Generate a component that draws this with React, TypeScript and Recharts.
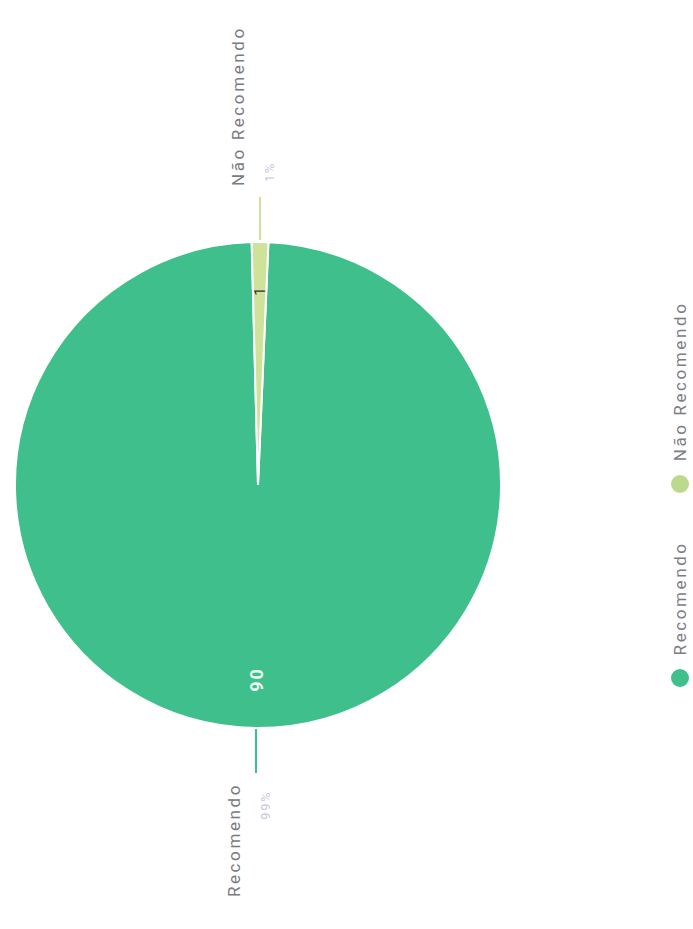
import React from 'react';
import { PieChart, Pie, Cell, Legend } from 'recharts';

const categories = ['Recomendo', 'Não Recomendo'];
const values = [90, 1];
const colors = ['#3fbf8c', '#cfe29a'];
const legendColors = ['#3fbf8c', '#bcd98e'];

const data = categories.map((name, i) => ({ name, value: values[i] }));

const RAD = Math.PI / 180;
const FONT = 'Roboto, "Noto Sans", sans-serif';

function renderLabel(props: any) {
  const { cx, cy, midAngle, outerRadius, percent, name, value, index } = props;
  const cos = Math.cos(-midAngle * RAD);
  const sin = Math.sin(-midAngle * RAD);
  const right = cos >= 0;
  const y = cy + outerRadius * sin;
  const x0 = cx + outerRadius * cos + (right ? 2 : -1);
  const x1 = x0 + (right ? 43 : -44);
  const ix = cx + outerRadius * 0.8 * cos;
  const iy = cy + outerRadius * 0.8 * sin;
  return (
    <g>
      <line x1={x0} y1={y} x2={x1} y2={y} stroke={colors[index]} strokeWidth={2} />
      <text
        x={x1 + (right ? 11 : -10)}
        y={y - 16}
        textAnchor={right ? 'start' : 'end'}
        fill="#7a7a82"
        fontSize={17}
        fontFamily={FONT}
        style={{ letterSpacing: 2.6 }}
      >
        {name}
      </text>
      <text
        x={x1 + (right ? 15 : -18)}
        y={y + 14}
        textAnchor={right ? 'start' : 'end'}
        fill="#c9c3dd"
        fontSize={13}
        fontFamily={FONT}
        style={{ letterSpacing: 1.5 }}
      >
        {`${Math.round(percent * 100)}%`}
      </text>
      <text
        x={ix}
        y={iy}
        textAnchor="middle"
        dominantBaseline="central"
        fill={index === 0 ? '#eef8f2' : '#333333'}
        fontSize={index === 0 ? 18 : 15}
        fontWeight={index === 0 ? 700 : 400}
        fontFamily={FONT}
        style={{ letterSpacing: 2 }}
      >
        {value}
      </text>
    </g>
  );
}

function renderLegend() {
  return (
    <div
      style={{
        display: 'flex',
        justifyContent: 'center',
        alignItems: 'center',
        gap: 48,
        fontFamily: FONT,
        fontSize: 17,
        color: '#7d7d85',
        letterSpacing: 2.6,
      }}
    >
      {categories.map((c, i) => (
        <div key={c} style={{ display: 'flex', alignItems: 'center' }}>
          <span
            style={{
              display: 'inline-block',
              width: 18,
              height: 18,
              borderRadius: 9,
              background: legendColors[i],
              marginRight: 14,
            }}
          />
          <span>{c}</span>
        </div>
      ))}
    </div>
  );
}

export default function App() {
  return (
    <div style={{ position: 'absolute', left: 0, top: 0, width: 693, height: 929, overflow: 'hidden', background: '#fff' }}>
      <div
        style={{
          position: 'absolute',
          width: 929,
          height: 693,
          left: -118,
          top: 118,
          transform: 'rotate(-90deg)',
        }}
      >
        <PieChart width={929} height={693} margin={{ top: 0, right: 0, bottom: 0, left: 0 }}>
          <Pie
            data={data}
            dataKey="value"
            nameKey="name"
            cx={444}
            cy={258}
            outerRadius={243}
            startAngle={1.5}
            endAngle={361.5}
            stroke="#ffffff"
            strokeWidth={2}
            label={renderLabel}
            labelLine={false}
            isAnimationActive={false}
          >
            {data.map((d, i) => (
              <Cell key={d.name} fill={colors[i]} />
            ))}
          </Pie>
          <Legend
            content={renderLegend}
            wrapperStyle={{ position: 'absolute', left: -30, top: 670, width: 929 }}
          />
        </PieChart>
      </div>
    </div>
  );
}
